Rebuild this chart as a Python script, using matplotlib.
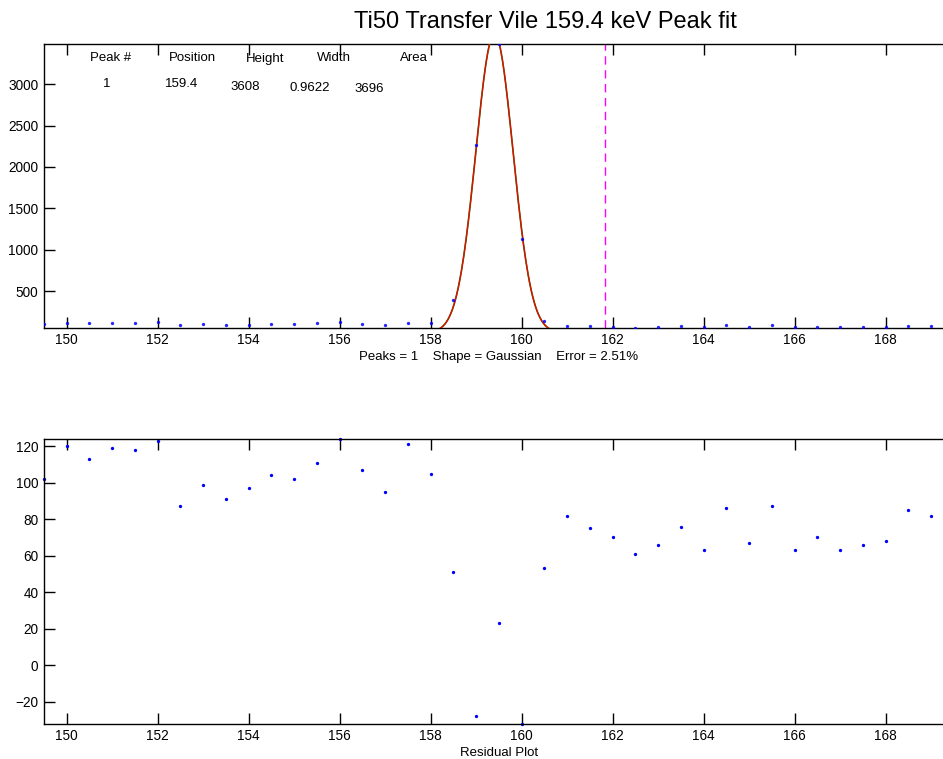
import numpy as np
import matplotlib
matplotlib.use('Agg')
import matplotlib.pyplot as plt

plt.rcParams['font.family'] = ['Liberation Sans', 'DejaVu Sans']

# measured spectrum (keV, counts)
energy = [149.5, 150.0, 150.5, 151.0, 151.5, 152.0, 152.5, 153.0, 153.5, 154.0,
          154.5, 155.0, 155.5, 156.0, 156.5, 157.0, 157.5, 158.0, 158.5, 159.0,
          159.5, 160.0, 160.5, 161.0, 161.5, 162.0, 162.5, 163.0, 163.5, 164.0,
          164.5, 165.0, 165.5, 166.0, 166.5, 167.0, 167.5, 168.0, 168.5, 169.0]
counts = [102, 120, 113, 119, 118, 123, 87, 99, 91, 97,
          104, 102, 111, 124, 107, 95, 121, 115, 390, 2270,
          3485, 1130, 140, 84, 75, 70, 61, 66, 76, 63,
          86, 67, 87, 63, 70, 63, 66, 68, 85, 82]
residuals = [102, 120, 113, 119, 118, 123, 87, 99, 91, 97,
             104, 102, 111, 124, 107, 95, 121, 105, 51, -28,
             23, -32, 53, 82, 75, 70, 61, 66, 76, 63,
             86, 67, 87, 63, 70, 63, 66, 68, 85, 82]

# fit results (gaussian)
peak_num = 1
peak_pos = 159.4
peak_height = 3608
peak_width = 0.9622
peak_area = 3696
fit_error = 2.51
marker_line = 161.82
x_range = [149.5, 169.5]

W, H = 943, 759
fig = plt.figure(figsize=(W / 100, H / 100), dpi=100)

left = 44 / W
width = (954 - 44) / W
ax1 = fig.add_axes([left, 1 - 327.5 / H, width, (327.5 - 44) / H])
ax2 = fig.add_axes([left, 1 - 723.5 / H, width, (723.5 - 439) / H])

xx = np.linspace(x_range[0], x_range[1], 1200)
fit = peak_height * np.exp(-((xx - peak_pos) / (0.60056 * peak_width)) ** 2)

ax1.plot(energy, counts, 'o', color='#0000ff', ms=2.4, mec='none', alpha=0.85, zorder=5)
# component (green) under the total model (red), as peakfit draws it
ax1.plot(xx, fit, color='#008000', lw=1.2, zorder=3)
ax1.plot(xx, fit, color='#ff0000', lw=0.9, zorder=4)
ax1.axvline(marker_line, color='#ff00ff', lw=1.0, dashes=(6, 4), zorder=1)
ax1.set_xlim(x_range)
ax1.set_ylim(min(counts), max(counts))
ax1.set_yticks([500, 1000, 1500, 2000, 2500, 3000])
ax1.set_xlabel('Peaks = %d    Shape = Gaussian    Error = %.2f%%' % (peak_num, fit_error),
               fontsize=9.5, labelpad=3)

ax2.plot(energy, residuals, 'o', color='#0000ff', ms=2.4, mec='none', clip_on=False)
ax2.set_xlim(x_range)
ax2.set_ylim(min(residuals), max(residuals))
ax2.set_yticks([-20, 0, 20, 40, 60, 80, 100, 120])
ax2.set_yticklabels(['\u221220', '0', '20', '40', '60', '80', '100', '120'])
ax2.set_xlabel('Residual Plot', fontsize=9.5, labelpad=3)

for ax in (ax1, ax2):
    ax.set_xticks([150, 152, 154, 156, 158, 160, 162, 164, 166, 168])
    ax.tick_params(direction='in', length=8, width=1, labelsize=9.8, pad=4,
                   top=True, right=True)
    for s in ax.spines.values():
        s.set_linewidth(1.0)
        s.set_color('black')

# peak table at top of the fit plot
hdr_y = 1 - 58 / H
fig.text(111 / W, hdr_y, 'Peak #', ha='center', va='center', fontsize=9.5)
fig.text(192 / W, hdr_y, 'Position', ha='center', va='center', fontsize=9.5)
fig.text(265 / W, 1 - 59 / H, 'Height', ha='center', va='center', fontsize=9.5)
fig.text(334 / W, hdr_y, 'Width', ha='center', va='center', fontsize=9.5)
fig.text(414 / W, hdr_y, 'Area', ha='center', va='center', fontsize=9.5)
fig.text(107 / W, 1 - 84 / H, str(peak_num), ha='center', va='center', fontsize=9.5)
fig.text(181.5 / W, 1 - 84 / H, '%.1f' % peak_pos, ha='center', va='center', fontsize=9.5)
fig.text(245 / W, 1 - 87 / H, '%d' % peak_height, ha='center', va='center', fontsize=9.5)
fig.text(310 / W, 1 - 88 / H, '%.4f' % peak_width, ha='center', va='center', fontsize=9.5)
fig.text(369 / W, 1 - 89 / H, '%d' % peak_area, ha='center', va='center', fontsize=9.5)

fig.text(545 / W, 1 - 22 / H, 'Ti50 Transfer Vile %.1f keV Peak fit' % peak_pos,
         ha='center', va='center', fontsize=17)

fig.savefig('out.png', dpi=100)
